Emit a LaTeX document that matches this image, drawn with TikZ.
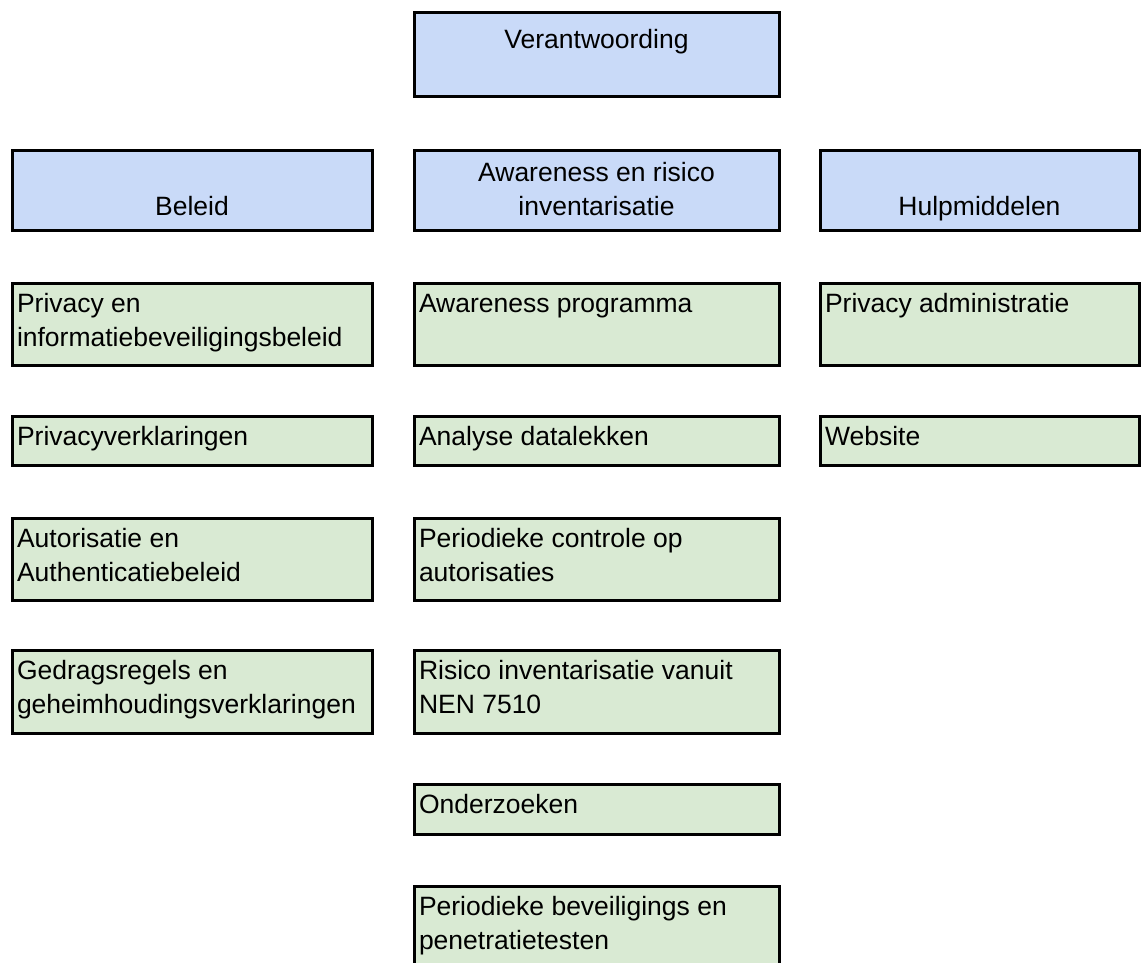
\documentclass[tikz,border=0pt]{standalone}
\usepackage{fontspec}
\setmainfont{Liberation Sans}
\definecolor{hdrblue}{HTML}{C9DAF8}
\definecolor{grngreen}{HTML}{D9EAD3}
\tikzset{
  x=1pt, y=-1pt,
  boxbase/.style={draw=black, line width=3pt, inner sep=0pt, outer sep=0pt, anchor=north west},
  hdrbox/.style={boxbase, fill=hdrblue},
  grnbox/.style={boxbase, fill=grngreen},
  txt/.style={inner sep=0pt, outer sep=0pt, font=\fontsize{26.5}{34}\selectfont},
  ltxt/.style={txt, align=left, anchor=base west},
  ctxt/.style={txt, align=center, anchor=base},
}
% name, x, y, width, height, text, last-baseline offset from top
\newcommand{\gbx}[7]{%
  \node[grnbox, minimum width=#4pt, minimum height=#5pt] (#1) at (#2,#3) {};
  \node[ltxt] (#1t) at ([shift={(5,#7)}]#1.north west) {#6};}
\begin{document}
\begin{tikzpicture}
\useasboundingbox (0,0) rectangle (1141,963);
% top
\node[hdrbox, minimum width=365pt, minimum height=84pt] (ver) at (414,13) {};
\node[ctxt] (vert) at ([yshift=-36pt]ver.north) {Verantwoording};
% headers
\node[hdrbox, minimum width=360pt, minimum height=79pt] (bel) at (12,151) {};
\node[ctxt] (belt) at ([yshift=15pt]bel.south) {Beleid};
\node[hdrbox, minimum width=365pt, minimum height=79pt] (awa) at (414,151) {};
\node[ctxt] (awat) at ([yshift=15pt]awa.south) {Awareness en risico\\inventarisatie};
\node[hdrbox, minimum width=319pt, minimum height=79pt] (hlp) at (820,151) {};
\node[ctxt] (hlpt) at ([yshift=15pt]hlp.south) {Hulpmiddelen};
% left column
\gbx{l1}{12}{283}{360}{82}{Privacy en\\informatiebeveiligingsbeleid}{63}
\gbx{l2}{12}{416}{360}{49}{Privacyverklaringen}{29}
\gbx{l3}{12}{518}{360}{82}{Autorisatie en\\Authenticatiebeleid}{63}
\gbx{l4}{12}{650}{360}{83}{Gedragsregels en\\geheimhoudingsverklaringen}{63}
% middle column
\gbx{m1}{414}{283}{365}{82}{Awareness programma}{29}
\gbx{m2}{414}{416}{365}{49}{Analyse datalekken}{29}
\gbx{m3}{414}{518}{365}{82}{Periodieke controle op\\autorisaties}{63}
\gbx{m4}{414}{650}{365}{83}{Risico inventarisatie vanuit\\NEN 7510}{63}
\gbx{m5}{414}{784}{365}{50}{Onderzoeken}{29}
\gbx{m6}{414}{886}{365}{100}{Periodieke beveiligings en\\penetratietesten}{63}
% right column
\gbx{r1}{820}{283}{319}{82}{Privacy administratie}{29}
\gbx{r2}{820}{416}{319}{49}{Website}{29}
\end{tikzpicture}
\end{document}
